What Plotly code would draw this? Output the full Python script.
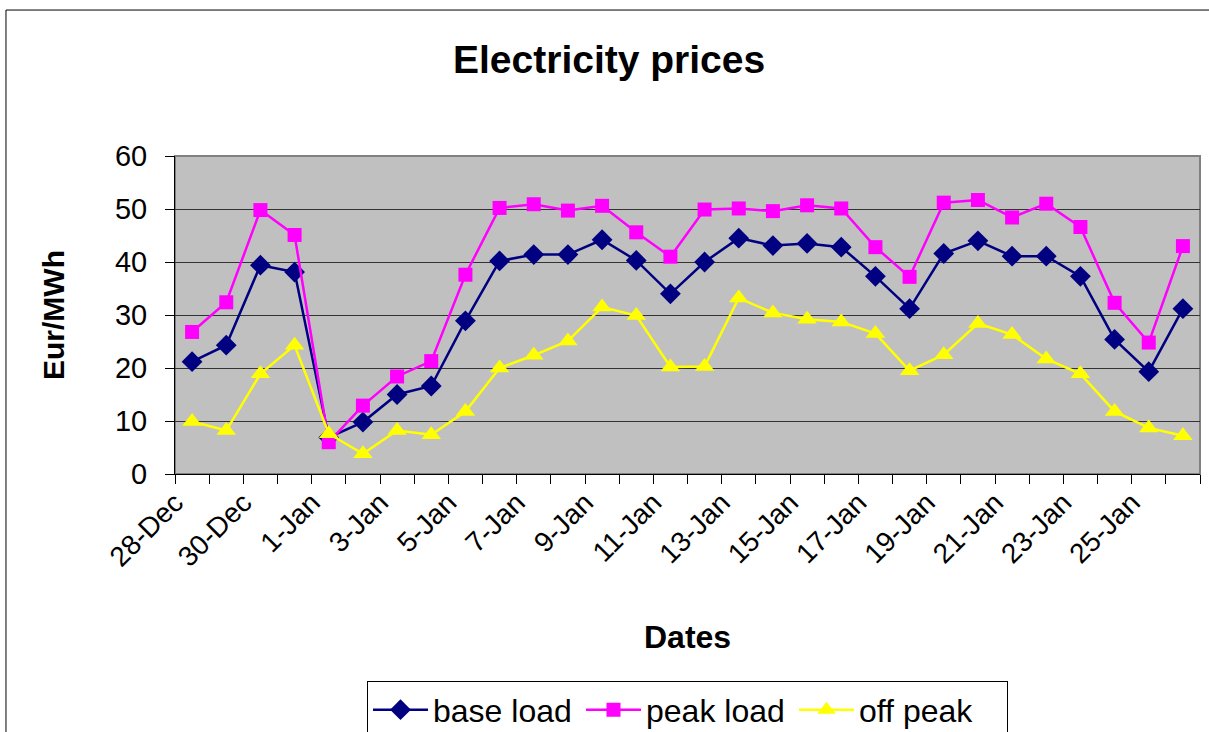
import plotly.graph_objects as go

dates = ["28-Dec", "29-Dec", "30-Dec", "31-Dec", "1-Jan", "2-Jan", "3-Jan", "4-Jan",
         "5-Jan", "6-Jan", "7-Jan", "8-Jan", "9-Jan", "10-Jan", "11-Jan", "12-Jan",
         "13-Jan", "14-Jan", "15-Jan", "16-Jan", "17-Jan", "18-Jan", "19-Jan", "20-Jan",
         "21-Jan", "22-Jan", "23-Jan", "24-Jan", "25-Jan", "26-Jan"]
# only every second date gets a label
date_labels = [d if i % 2 == 0 else "" for i, d in enumerate(dates)]

base_load = [21.2, 24.3, 39.4, 38.1, 6.9, 9.8, 15.0, 16.6, 28.9, 40.2,
             41.4, 41.4, 44.2, 40.3, 34.0, 40.0, 44.5, 43.1, 43.5, 42.8,
             37.3, 31.2, 41.6, 44.0, 41.1, 41.1, 37.3, 25.4, 19.3, 31.2]
peak_load = [26.8, 32.4, 49.8, 45.1, 6.0, 12.9, 18.4, 21.3, 37.6, 50.2,
             50.9, 49.7, 50.6, 45.6, 41.0, 49.9, 50.1, 49.6, 50.7, 50.1,
             42.8, 37.2, 51.2, 51.7, 48.4, 51.0, 46.6, 32.3, 24.8, 43.0]
off_peak = [9.9, 8.2, 18.9, 24.3, 7.6, 3.8, 8.2, 7.4, 11.8, 20.0,
            22.4, 25.1, 31.5, 29.9, 20.2, 20.3, 33.2, 30.4, 29.2, 28.7,
            26.5, 19.5, 22.5, 28.4, 26.3, 21.7, 18.9, 11.8, 8.7, 7.2]

font = "Liberation Sans, Arial, sans-serif"

fig = go.Figure()
fig.add_trace(go.Scatter(x=dates, y=base_load, name="base load", mode="lines+markers",
                         line=dict(color="#000080", width=2.5),
                         marker=dict(symbol="diamond", size=16, color="#000080")))
fig.add_trace(go.Scatter(x=dates, y=peak_load, name="peak load", mode="lines+markers",
                         line=dict(color="#FF00FF", width=2.5),
                         marker=dict(symbol="square", size=14, color="#FF00FF")))
fig.add_trace(go.Scatter(x=dates, y=off_peak, name="off peak", mode="lines+markers",
                         line=dict(color="#FFFF00", width=2.5),
                         marker=dict(symbol="triangle-up", size=17, color="#FFFF00")))

fig.update_layout(
    width=1209, height=732,
    margin=dict(l=175, r=9, t=156, b=258, autoexpand=False),
    paper_bgcolor="white", plot_bgcolor="#C0C0C0",
    font=dict(family=font, color="black", size=29),
    showlegend=True,
    legend=dict(orientation="h", x=0.5, xanchor="center", y=-0.652, yanchor="top",
                bordercolor="black", borderwidth=1, font=dict(size=32),
                bgcolor="white", itemwidth=55, entrywidth=143, entrywidthmode="pixels"),
)

fig.update_xaxes(type="category", tickmode="array", tickvals=dates, ticktext=date_labels,
                 tickangle=-45, tickson="boundaries", ticks="outside", ticklen=9,
                 tickcolor="black", showline=True, linecolor="black", linewidth=1,
                 showgrid=False, range=[-0.5, 29.5], tickfont=dict(size=28),
                 ticklabelshift=-17, ticklabelstandoff=0, automargin=False)
fig.update_yaxes(range=[0, 60], dtick=10, ticks="outside", ticklen=9, tickcolor="black",
                 showline=True, linecolor="black", linewidth=1,
                 showgrid=True, gridcolor="#333333", gridwidth=1,
                 ticklabelstandoff=12, tickfont=dict(size=29), zeroline=False,
                 automargin=False)

# plot area border and the outer chart frame
fig.add_shape(type="rect", xref="paper", yref="paper", x0=0, x1=1, y0=0, y1=1,
              line=dict(color="#808080", width=2), layer="below")
fig.add_shape(type="rect", xref="paper", yref="paper", x0=-0.1649, x1=1.05, y0=-0.9, y1=1.459,
              line=dict(color="black", width=1))

fig.add_annotation(text="<b>Electricity prices</b>", xref="paper", yref="paper",
                   x=0.4234, y=1.302, xanchor="center", yanchor="middle",
                   showarrow=False, font=dict(size=39))
fig.add_annotation(text="<b>Eur/MWh</b>", xref="paper", yref="paper",
                   x=-0.119, y=0.5, xanchor="center", yanchor="middle", textangle=-90,
                   showarrow=False, font=dict(size=30))
fig.add_annotation(text="<b>Dates</b>", xref="paper", yref="paper",
                   x=0.5, y=-0.5126, xanchor="center", yanchor="middle",
                   showarrow=False, font=dict(size=32))

fig.write_html("out.html", config={"displayModeBar": False},
               post_script="document.body.style.margin='0';")
